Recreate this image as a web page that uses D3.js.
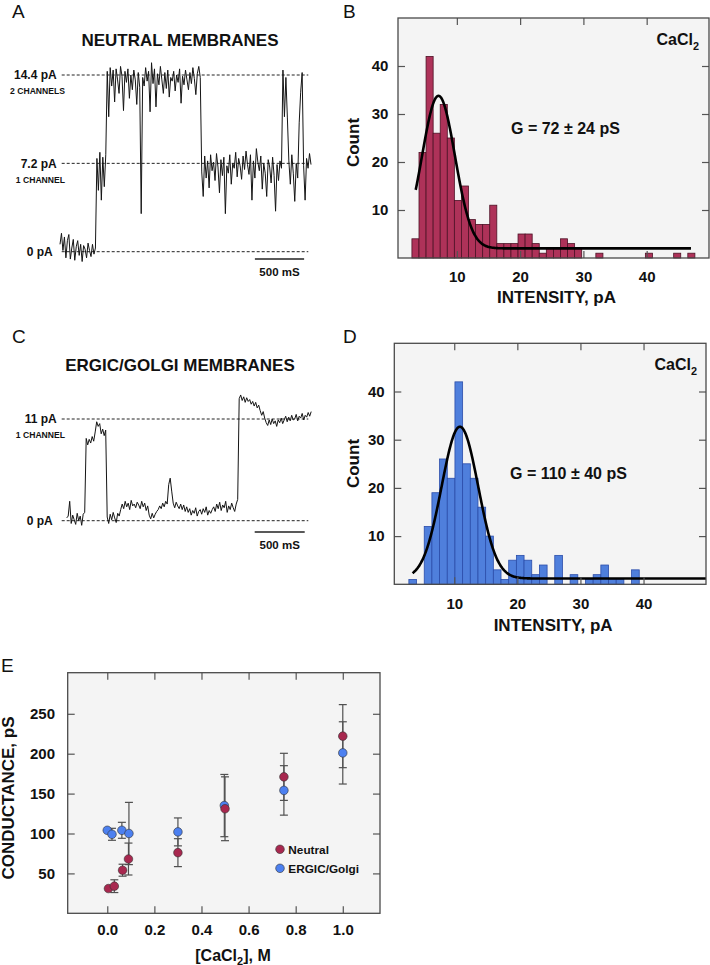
<!DOCTYPE html>
<html><head><meta charset="utf-8">
<script src="https://cdn.jsdelivr.net/npm/d3@7"></script>
<style>
body{margin:0;background:#fff}
svg{display:block}
text{font-family:"Liberation Sans",Arial,Helvetica,sans-serif}
</style>
</head><body>
<svg id="c" width="710" height="965"></svg>
<script>
// ---------------- DATA ----------------
// Panel A: single-channel trace, neutral membranes (pA, sampled every 15 ms)
const traceADt = 15;
const traceA = [
 0.6,1.5,0.1,1.2,-0.5,0.9,1.4,-0.6,0.3,1.0,-0.7,0.4,0.9,-0.3,0.6,-0.8,0.5,0.2,-0.5,0.7,0.1,-0.4,0.6,-0.2,0.3,
 7.6,5.0,8.1,4.2,7.7,5.3,7.9,
 14.7,11.0,15.0,13.5,14.8,12.2,14.9,14.0,
 12.9,15.1,14.3,11.5,14.7,13.8,14.9,12.5,
 14.4,13.2,14.8,14.0,12.0,14.6,13.4,3.1,
 14.2,13.5,15.0,13.9,14.7,11.4,15.4,13.7,
 14.9,11.8,14.5,13.6,15.1,14.0,12.9,14.6,
 13.3,14.8,12.6,14.2,13.9,14.7,13.1,14.4,
 13.8,14.9,12.1,14.3,13.6,14.8,14.0,13.2,
 14.6,13.7,15.0,14.1,12.8,14.5,15.1,14.2,
 6.5,4.5,7.8,6.0,7.4,5.2,7.9,6.6,
 7.3,5.8,8.0,6.9,4.8,7.5,6.2,7.7,
 3.1,7.0,6.4,7.9,5.5,7.2,6.8,8.1,
 6.1,7.6,7.0,5.9,7.8,6.7,8.2,7.1,
 6.3,7.9,4.2,7.4,6.0,8.4,7.3,6.6,
 7.8,5.1,7.2,6.4,4.5,7.5,6.9,5.6,
 7.7,6.2,3.3,7.1,5.8,7.4,6.8,
 14.8,11.0,14.2,10.9,
 7.4,5.5,7.9,6.4,4.1,7.2,6.0,
 10.5,13.0,14.6,
 7.0,4.2,7.6,6.8,8.0,7.1
];
const levelsA = [14.4, 7.2, 0];
const levelLabelsA = ["14.4 pA", "7.2 pA", "0 pA"];
const channelLabelsA = ["2 CHANNELS", "1 CHANNEL", ""];

// Panel C: single-channel trace, ERGIC/Golgi membranes (pA, every 15 ms)
const traceCDt = 15;
const traceC = [
 0.3,0.5,2.1,-0.3,0.6,0.1,-0.4,0.8,0.0,0.5,-0.5,0.7,0.9,
 8.9,8.2,8.8,8.4,9.1,8.6,9.6,10.7,10.2,10.5,9.4,9.9,9.2,9.8,
 0.4,-0.3,0.7,0.1,0.9,0.3,-0.2,0.8,0.5,1.2,
 1.8,1.3,2.1,1.5,1.9,1.2,2.2,1.6,1.8,1.4,2.0,1.7,1.3,2.1,1.5,1.9,1.1,1.6,
 0.6,0.2,0.8,0.3,0.7,1.0,
 1.2,1.6,1.3,1.9,1.5,2.1,1.8,
 3.9,4.6,3.2,
 1.9,1.4,2.0,1.6,1.3,1.8,1.2,1.7,1.0,1.5,
 0.9,1.3,0.6,1.1,0.8,1.4,0.5,1.0,1.2,0.7,1.3,0.9,1.5,0.6,1.1,0.8,1.2,
 1.5,1.0,1.8,1.3,2.0,1.1,1.7,1.4,2.1,0.9,1.6,1.2,1.9,1.4,1.0,1.8,2.3,
 13.2,13.6,13.0,13.4,12.8,13.3,12.9,13.1,12.6,12.9,12.4,12.8,12.2,12.5,
 11.9,11.4,11.8,11.1,10.6,
 10.3,10.9,10.4,11.0,10.5,10.8,10.2,10.9,10.6,11.1,10.5,
 10.9,11.3,10.7,11.2,10.8,11.4,10.9,11.0,11.5,10.8,11.3,11.1,11.6,10.9,11.4,11.2,11.7,11.3,11.8
];
const levelsC = [11, 0];
const levelLabelsC = ["11 pA", "0 pA"];
const channelLabelsC = ["1 CHANNEL", ""];

// Panel B: amplitude histogram (neutral)
const histBStart = 2.9, histBWidth = 1.118;
const countsB = [4,22,42,26,32,25,12,15,8,7,7,11,3,3,3,5,5,3,1,2,2,4,3,2,0,0,1,0,0,0,0,0,0,1,0,0,0,1,0,1];
const fitB = {mu: 7.1, sigma: 2.6, amp: 31.8, base: 2.0, from: 3.5, to: 47};
const labelB = "G = 72 ± 24 pS";

// Panel D: amplitude histogram (ERGIC/Golgi)
const histDStart = 2.81, histDWidth = 1.217;
const countsD = [1,0,12,19,26,22,42,25,22,16,10,3,1,5,6,5,2,4,0,6,0,2,0,1,2,4,1,1,0,3];
const fitD = {mu: 10.9, sigma: 2.9, amp: 31.5, base: 1.2, from: 3.4, to: 49.9};
const labelD = "G = 110 ± 40 pS";

const histTicks = [10, 20, 30, 40];
const countTicks = [10, 20, 30, 40];

// Panel E: conductance vs [CaCl2]
const concNeutral = [0.005, 0.03, 0.065, 0.09, 0.3, 0.5, 0.75, 1.0];
const gNeutral    = [31, 34, 54, 68, 76, 131, 171, 222];
const errNeutral  = [0, 8, 7.5, 20, 17.5, 40, 29.5, 39.5];
const concErgic   = [0.0, 0.02, 0.062, 0.092, 0.3, 0.497, 0.75, 1.0];
const gErgic      = [104, 99, 104, 100, 102, 135, 154, 201];
const errErgic    = [0, 7.5, 10, 39, 17.5, 39, 31, 39];
const concTicks = [0, 0.2, 0.4, 0.6, 0.8, 1.0];
const gTicks = [50, 100, 150, 200, 250];

// ---------------- STYLE ----------------
const RED = "#AE3259", RED_STROKE = "#4d1226";
const BLUE = "#4F7FDC", BLUE_STROKE = "#2B4DAA";
const DOT_RED = "#A8284F", DOT_BLUE = "#4C80F0";
const PANEL_BG = "#f4f4f4", FRAME = "#4a4a4a";

const svg = d3.select("#c");

function text(x, y, s, size, opts = {}) {
  const t = svg.append("text").attr("x", x).attr("y", y)
    .attr("font-size", size).attr("font-weight", opts.weight || "bold")
    .attr("fill", opts.fill || "#111")
    .attr("text-anchor", opts.anchor || "start");
  if (opts.transform) t.attr("transform", opts.transform);
  t.text(s);
  return t;
}
function cacl2(x, y, size, anchor) {
  const t = svg.append("text").attr("x", x).attr("y", y).attr("font-size", size)
    .attr("font-weight", "bold").attr("fill", "#111").attr("text-anchor", anchor);
  t.append("tspan").text("CaCl");
  t.append("tspan").attr("font-size", size * 0.68).attr("dy", size * 0.3).text("2");
  return t;
}

// panel letters
[["A",12,18],["B",343,18],["C",12,343],["D",343,343],["E",1,672]].forEach(([l,x,y]) =>
  text(x, y, l, 19, {weight: "normal"}));

// ---------------- TRACES ----------------
function drawTrace(trace, dt, xRange, yScaleDomain, yScaleRange, levels, levelLabels, chLabels, title, titleY, scaleBarStart, scaleBarY) {
  const tS = d3.scaleLinear().domain([0, (trace.length - 1) * dt]).range(xRange);
  const yS = d3.scaleLinear().domain(yScaleDomain).range(yScaleRange);
  text(180, titleY, title, 17, {anchor: "middle"});
  levels.forEach((v, i) => {
    svg.append("line").attr("x1", 61.7).attr("x2", 308.3)
      .attr("y1", yS(v)).attr("y2", yS(v))
      .attr("stroke", "#222").attr("stroke-width", 1).attr("stroke-dasharray", "3,2");
    text(v === 0 ? 52.7 : 56.7, yS(v) + 4.3, levelLabels[i], 12, {anchor: "end"});
    if (chLabels[i]) text(65, yS(v) + 19.3, chLabels[i], 8.6, {anchor: "end"});
  });
  svg.append("path").datum(trace)
    .attr("d", d3.line().x((d, i) => tS(i * dt)).y(d => yS(d)))
    .attr("fill", "none").attr("stroke", "#151515").attr("stroke-width", 1)
    .attr("stroke-linejoin", "round");
  // scale bar 500 ms
  svg.append("line").attr("x1", tS(scaleBarStart)).attr("x2", tS(scaleBarStart + 500))
    .attr("y1", scaleBarY).attr("y2", scaleBarY).attr("stroke", "#222").attr("stroke-width", 1.6);
  text((tS(scaleBarStart) + tS(scaleBarStart + 500)) / 2, scaleBarY + 16.5, "500 mS", 11.5, {anchor: "middle"});
}
drawTrace(traceA, traceADt, [60, 311], [0, 14.4], [251.7, 75], levelsA, levelLabelsA, channelLabelsA,
  "NEUTRAL MEMBRANES", 46, 1980, 259);
drawTrace(traceC, traceCDt, [66.7, 311.2], [0, 11], [520.7, 419], levelsC, levelLabelsC, channelLabelsC,
  "ERGIC/GOLGI MEMBRANES", 371, 1880, 532);

// ---------------- HISTOGRAMS ----------------
function drawHist(box, xDomain, counts, start, width, fill, stroke, fit, gLabel, gPos, cacPos, countPos, xTitleY, xPad) {
  const x = d3.scaleLinear().domain(xDomain).range([box.l, box.r]);
  const y = d3.scaleLinear().domain([0, 50]).range([box.b, box.t]);
  svg.append("rect").attr("x", box.l).attr("y", box.t).attr("width", box.r - box.l).attr("height", box.b - box.t)
    .attr("fill", PANEL_BG);
  const bins = counts.map((c, i) => ({x0: start + i * width, x1: start + (i + 1) * width, c})).filter(d => d.c > 0);
  svg.append("g").selectAll("rect").data(bins).join("rect")
    .attr("x", d => x(d.x0)).attr("width", d => x(d.x1) - x(d.x0))
    .attr("y", d => y(d.c)).attr("height", d => y(0) - y(d.c))
    .attr("fill", fill).attr("stroke", stroke).attr("stroke-width", 0.8);
  // fit curve
  const pts = d3.range(fit.from, fit.to + 0.001, 0.1).map(v =>
    [v, fit.base + fit.amp * Math.exp(-((v - fit.mu) ** 2) / (2 * fit.sigma ** 2))]);
  svg.append("path").datum(pts).attr("d", d3.line().x(d => x(d[0])).y(d => y(d[1])).curve(d3.curveBasis))
    .attr("fill", "none").attr("stroke", "#000").attr("stroke-width", 2.6);
  // axes (ticks inside)
  const styleAxis = g => { g.select(".domain").remove();
    g.selectAll(".tick line").attr("stroke", "#555").attr("stroke-width", 1.2);
    g.selectAll("text").attr("font-size", 15).attr("font-weight", "bold").attr("fill", "#111")
      .attr("font-family", '"Liberation Sans",Arial,sans-serif'); };
  svg.append("g").attr("transform", `translate(0,${box.b})`)
    .call(d3.axisBottom(x).tickValues(histTicks).tickSize(-7).tickPadding(xPad).tickFormat(d3.format("d"))).call(styleAxis);
  svg.append("g").attr("transform", `translate(0,${box.t})`)
    .call(d3.axisTop(x).tickValues(histTicks).tickSize(-7).tickFormat("")).call(styleAxis);
  svg.append("g").attr("transform", `translate(${box.l},0)`)
    .call(d3.axisLeft(y).tickValues(countTicks).tickSize(-7).tickPadding(9.7).tickFormat(d3.format("d"))).call(styleAxis);
  svg.append("g").attr("transform", `translate(${box.r},0)`)
    .call(d3.axisRight(y).tickValues(countTicks).tickSize(-7).tickFormat("")).call(styleAxis);
  svg.append("rect").attr("x", box.l).attr("y", box.t).attr("width", box.r - box.l).attr("height", box.b - box.t)
    .attr("fill", "none").attr("stroke", FRAME).attr("stroke-width", 1.3);
  text(gPos[0], gPos[1], gLabel, 16);
  cacl2(cacPos[0], cacPos[1], 16, "end");
  text(0, 0, "Count", 17, {anchor: "middle", transform: `translate(${countPos[0]},${countPos[1]}) rotate(-90)`});
  text((box.l + box.r) / 2 + 3, xTitleY, "INTENSITY, pA", 17, {anchor: "middle"});
}
drawHist({l: 398, r: 709, t: 18, b: 258}, [0.7, 49.85], countsB, histBStart, histBWidth, RED, RED_STROKE,
  fitB, labelB, [511, 134], [699, 45], [359, 142.5], 302.8, 13.4);
drawHist({l: 394.3, r: 706, t: 343.3, b: 584.3}, [0.5, 49.9], countsD, histDStart, histDWidth, BLUE, BLUE_STROKE,
  fitD, labelD, [510, 479], [697, 370], [359, 463.5], 630.5, 13.7);

// ---------------- PANEL E ----------------
(function () {
  const box = {l: 67.7, r: 380, t: 672.7, b: 913.3};
  const x = d3.scaleLinear().domain([-0.168, 1.158]).range([box.l, box.r]);
  const y = d3.scaleLinear().domain([0, 301.5]).range([box.b, box.t]);
  svg.append("rect").attr("x", box.l).attr("y", box.t).attr("width", box.r - box.l).attr("height", box.b - box.t)
    .attr("fill", PANEL_BG);
  const styleAxis = g => { g.select(".domain").remove();
    g.selectAll(".tick line").attr("stroke", "#555").attr("stroke-width", 1.2);
    g.selectAll("text").attr("font-size", 15).attr("font-weight", "bold").attr("fill", "#111")
      .attr("font-family", '"Liberation Sans",Arial,sans-serif'); };
  svg.append("g").attr("transform", `translate(0,${box.b})`)
    .call(d3.axisBottom(x).tickValues(concTicks).tickSize(-7).tickPadding(10.8).tickFormat(d3.format(".1f"))).call(styleAxis);
  svg.append("g").attr("transform", `translate(0,${box.t})`)
    .call(d3.axisTop(x).tickValues(concTicks).tickSize(-7).tickFormat("")).call(styleAxis);
  svg.append("g").attr("transform", `translate(${box.l},0)`)
    .call(d3.axisLeft(y).tickValues(gTicks).tickSize(-7).tickPadding(12.7).tickFormat(d3.format("d"))).call(styleAxis);
  svg.append("g").attr("transform", `translate(${box.r},0)`)
    .call(d3.axisRight(y).tickValues(gTicks).tickSize(-7).tickFormat("")).call(styleAxis);
  svg.append("rect").attr("x", box.l).attr("y", box.t).attr("width", box.r - box.l).attr("height", box.b - box.t)
    .attr("fill", "none").attr("stroke", FRAME).attr("stroke-width", 1.3);

  const series = [
    {c: concErgic, g: gErgic, e: errErgic, fill: DOT_BLUE},
    {c: concNeutral, g: gNeutral, e: errNeutral, fill: DOT_RED}
  ];
  const eb = svg.append("g").attr("stroke", "#505050").attr("stroke-width", 1.2);
  series.forEach(s => s.c.forEach((cv, i) => {
    if (!s.e[i]) return;
    const cx = x(cv), y1 = y(s.g[i] + s.e[i]), y2 = y(s.g[i] - s.e[i]);
    eb.append("line").attr("x1", cx).attr("x2", cx).attr("y1", y1).attr("y2", y2);
    eb.append("line").attr("x1", cx - 4).attr("x2", cx + 4).attr("y1", y1).attr("y2", y1);
    eb.append("line").attr("x1", cx - 4).attr("x2", cx + 4).attr("y1", y2).attr("y2", y2);
  }));
  series.forEach(s => svg.append("g").selectAll("circle").data(s.c).join("circle")
    .attr("cx", d => x(d)).attr("cy", (d, i) => y(s.g[i])).attr("r", 4.3)
    .attr("fill", s.fill).attr("stroke", "#333").attr("stroke-width", 0.6));

  // legend
  [["Neutral", DOT_RED, 849.3], ["ERGIC/Golgi", DOT_BLUE, 868.3]].forEach(([lab, col, ly]) => {
    svg.append("circle").attr("cx", 280).attr("cy", ly).attr("r", 4.3).attr("fill", col)
      .attr("stroke", "#333").attr("stroke-width", 0.6);
    text(288.3, ly + 4.2, lab, 11.8);
  });

  text(0, 0, "CONDUCTANCE, pS", 17, {anchor: "middle", transform: "translate(14,798) rotate(-90)"});
  const xt = svg.append("text").attr("x", 233).attr("y", 960.5).attr("font-size", 16).attr("font-weight", "bold")
    .attr("fill", "#111").attr("text-anchor", "middle");
  xt.append("tspan").text("[CaCl");
  xt.append("tspan").attr("font-size", 11).attr("dy", 4).text("2");
  xt.append("tspan").attr("dy", -4).text("], M");
})();
</script>
</body></html>
